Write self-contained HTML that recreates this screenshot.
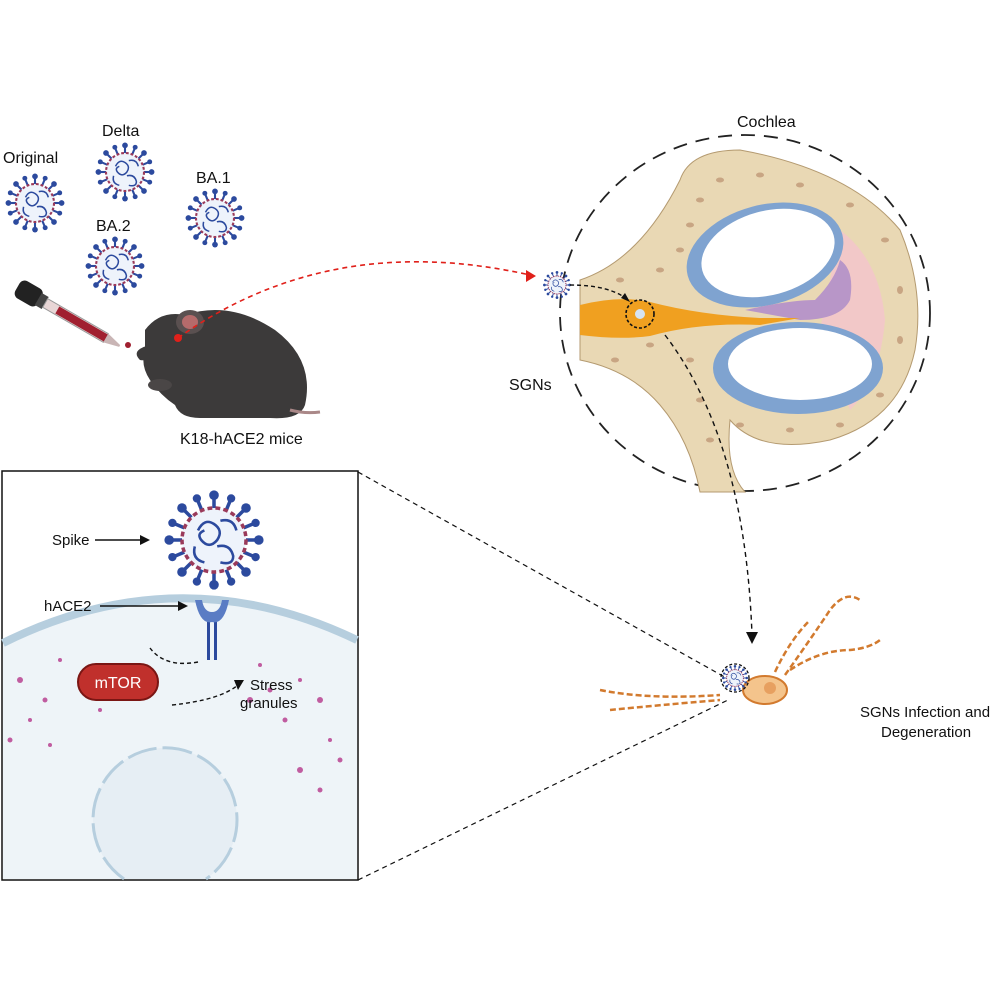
<!DOCTYPE html>
<html><head><meta charset="utf-8"><style>
html,body{margin:0;padding:0;background:#fff;width:996px;height:996px;overflow:hidden}
svg{display:block}
text{font-family:"Liberation Sans",sans-serif;fill:#111}
</style></head><body>
<svg width="996" height="996" viewBox="0 0 996 996" xmlns="http://www.w3.org/2000/svg">
<defs>
<g id="virus">
  <g stroke="#2c4a9e" stroke-width="2.2">
    <line x1="0" y1="-20" x2="0" y2="-27"/><line x1="0" y1="20" x2="0" y2="27"/>
    <line x1="-20" y1="0" x2="-27" y2="0"/><line x1="20" y1="0" x2="27" y2="0"/>
    <line x1="14" y1="14" x2="19" y2="19"/><line x1="-14" y1="14" x2="-19" y2="19"/>
    <line x1="14" y1="-14" x2="19" y2="-19"/><line x1="-14" y1="-14" x2="-19" y2="-19"/>
    <line x1="7.6" y1="-18.5" x2="10.3" y2="-25"/><line x1="-7.6" y1="-18.5" x2="-10.3" y2="-25"/>
    <line x1="7.6" y1="18.5" x2="10.3" y2="25"/><line x1="-7.6" y1="18.5" x2="-10.3" y2="25"/>
    <line x1="18.5" y1="7.6" x2="25" y2="10.3"/><line x1="-18.5" y1="7.6" x2="-25" y2="10.3"/>
    <line x1="18.5" y1="-7.6" x2="25" y2="-10.3"/><line x1="-18.5" y1="-7.6" x2="-25" y2="-10.3"/>
  </g>
  <g fill="#2c4a9e">
    <circle cx="0" cy="-28" r="3"/><circle cx="0" cy="28" r="3"/><circle cx="-28" cy="0" r="3"/><circle cx="28" cy="0" r="3"/>
    <circle cx="20" cy="20" r="3"/><circle cx="-20" cy="20" r="3"/><circle cx="20" cy="-20" r="3"/><circle cx="-20" cy="-20" r="3"/>
    <circle cx="10.7" cy="-26" r="2.6"/><circle cx="-10.7" cy="-26" r="2.6"/><circle cx="10.7" cy="26" r="2.6"/><circle cx="-10.7" cy="26" r="2.6"/>
    <circle cx="26" cy="10.7" r="2.6"/><circle cx="-26" cy="10.7" r="2.6"/><circle cx="26" cy="-10.7" r="2.6"/><circle cx="-26" cy="-10.7" r="2.6"/>
  </g>
  <circle r="20" fill="#eef3fb" stroke="#9a3a5a" stroke-width="2.2" stroke-dasharray="3 2"/>
  <g fill="none" stroke="#2c4a9e" stroke-width="1.6">
    <path d="M-10,-6 q4,-8 10,-4 q6,4 2,10 q-5,6 -10,0 q-3,-4 2,-6"/>
    <path d="M2,4 q8,-2 10,6 q0,6 -8,4"/>
    <path d="M-12,4 q-2,8 6,10"/>
    <path d="M4,-12 q8,-2 10,6"/>
  </g>
</g>
</defs>

<text x="3" y="163" font-size="16">Original</text>
<use href="#virus" transform="translate(35,203) scale(0.95)"/>
<text x="102" y="136" font-size="16">Delta</text>
<use href="#virus" transform="translate(125,172) scale(0.95)"/>
<text x="96" y="231" font-size="16">BA.2</text>
<use href="#virus" transform="translate(115,266) scale(0.95)"/>
<text x="196" y="183" font-size="16">BA.1</text>
<use href="#virus" transform="translate(215,218) scale(0.95)"/>

<g transform="rotate(30 40 300)">
  <rect x="14" y="290" width="26" height="20" rx="6" fill="#222"/>
  <rect x="38" y="293" width="8" height="14" fill="#444"/>
  <rect x="46" y="295" width="70" height="10" fill="#e8d6d6" stroke="#999"/>
  <rect x="60" y="296" width="56" height="8" fill="#a02030"/>
  <polygon points="116,295 132,299 132,301 116,305" fill="#c9b5b5"/>
</g>
<circle cx="128" cy="345" r="3" fill="#a02030"/>

<path d="M145,330 Q160,310 185,315 Q230,300 275,330 Q315,360 305,405 Q300,420 270,418 L200,418 Q180,418 175,405 Q160,395 150,380 Q140,365 145,350 Z" fill="#3c3a3a"/>
<ellipse cx="190" cy="322" rx="14" ry="12" fill="#5a5050"/>
<ellipse cx="190" cy="322" rx="8" ry="7" fill="#b56b6b"/>
<path d="M150,345 Q130,350 140,360 Q150,362 160,350Z" fill="#3c3a3a"/>
<path d="M290,410 Q305,414 320,412" stroke="#a88" stroke-width="3" fill="none"/>
<ellipse cx="160" cy="385" rx="12" ry="6" fill="#4a4646"/>
<text x="180" y="444" font-size="16">K18-hACE2 mice</text>

<path d="M178,338 Q330,230 530,275" stroke="#e0201a" stroke-width="1.6" fill="none" stroke-dasharray="5 4"/>
<polygon points="536,276 526,270 526,282" fill="#e0201a"/>
<circle cx="178" cy="338" r="4" fill="#e0201a"/>

<text x="737" y="127" font-size="16">Cochlea</text>
<ellipse cx="745" cy="313" rx="185" ry="178" fill="none" stroke="#222" stroke-width="1.8" stroke-dasharray="14 9"/>
<path d="M580,280 Q640,260 680,180 Q690,150 740,150 Q850,170 900,230 Q925,290 915,350 Q900,420 830,440 Q760,455 730,420 Q725,470 745,492 L700,492 Q690,440 660,405 Q630,370 580,360 Z" fill="#e9d8b4" stroke="#b49a70" stroke-width="1"/>
<g fill="#c8a583">
  <ellipse cx="700" cy="200" rx="4" ry="2.5"/><ellipse cx="720" cy="180" rx="4" ry="2.5"/><ellipse cx="760" cy="175" rx="4" ry="2.5"/>
  <ellipse cx="800" cy="185" rx="4" ry="2.5"/><ellipse cx="850" cy="205" rx="4" ry="2.5"/><ellipse cx="885" cy="240" rx="4" ry="2.5"/>
  <ellipse cx="900" cy="290" rx="3" ry="4"/><ellipse cx="900" cy="340" rx="3" ry="4"/><ellipse cx="880" cy="395" rx="4" ry="2.5"/>
  <ellipse cx="840" cy="425" rx="4" ry="2.5"/><ellipse cx="790" cy="430" rx="4" ry="2.5"/><ellipse cx="740" cy="425" rx="4" ry="2.5"/>
  <ellipse cx="660" cy="270" rx="4" ry="2.5"/><ellipse cx="650" cy="345" rx="4" ry="2.5"/><ellipse cx="690" cy="360" rx="4" ry="2.5"/>
  <ellipse cx="680" cy="250" rx="4" ry="2.5"/><ellipse cx="620" cy="280" rx="4" ry="2.5"/><ellipse cx="700" cy="400" rx="4" ry="2.5"/>
  <ellipse cx="710" cy="440" rx="4" ry="2.5"/><ellipse cx="615" cy="360" rx="4" ry="2.5"/><ellipse cx="690" cy="225" rx="4" ry="2.5"/>
</g>
<path d="M840,230 Q880,260 885,320 Q880,380 850,410 L820,330 Z" fill="#f2c8c8"/>
<ellipse cx="765" cy="255" rx="80" ry="50" transform="rotate(-15 765 255)" fill="#7fa3d0"/>
<ellipse cx="768" cy="253" rx="68" ry="42" transform="rotate(-15 768 253)" fill="#fff"/>
<ellipse cx="798" cy="368" rx="85" ry="46" fill="#7fa3d0"/>
<ellipse cx="800" cy="364" rx="72" ry="36" fill="#fff"/>
<path d="M745,310 Q790,300 815,300 Q835,280 840,260 Q855,270 850,300 Q840,320 800,320 Z" fill="#b896c8"/>
<path d="M580,305 Q620,295 650,302 Q700,315 760,318 L800,318 L760,325 Q700,322 650,336 Q620,340 580,335 Z" fill="#f0a020"/>
<circle cx="640" cy="314" r="14" fill="none" stroke="#111" stroke-width="1.6" stroke-dasharray="3 2"/>
<circle cx="640" cy="314" r="5" fill="#d6e4f4"/>
<use href="#virus" transform="translate(557,285) scale(0.45)"/>
<path d="M570,285 Q610,285 628,300" stroke="#111" stroke-width="1.4" fill="none" stroke-dasharray="4 3"/>
<polygon points="630,302 621,298 625,293" fill="#111"/>
<text x="509" y="390" font-size="16">SGNs</text>

<path d="M665,335 Q745,440 752,635" stroke="#111" stroke-width="1.4" fill="none" stroke-dasharray="5 4"/>
<polygon points="752,644 746,632 758,632" fill="#111"/>

<rect x="2" y="471" width="356" height="409" fill="#fff" stroke="#111" stroke-width="1.5"/>
<path d="M3,643 Q180,555 357,640 L357,879 L3,879 Z" fill="#eef4f8"/>
<path d="M3,643 Q180,555 357,640" fill="none" stroke="#b6cede" stroke-width="8"/>
<path d="M124,879 A72,72 0 1 1 206,879 Z" fill="#e6eef4"/>
<path d="M124,879 A72,72 0 1 1 206,879" fill="none" stroke="#b6cede" stroke-width="3" stroke-dasharray="30 6"/>
<g fill="#c05ca0">
  <circle cx="20" cy="680" r="3"/><circle cx="45" cy="700" r="2.5"/><circle cx="90" cy="670" r="3"/><circle cx="110" cy="690" r="2.5"/>
  <circle cx="60" cy="660" r="2"/><circle cx="130" cy="670" r="2.5"/><circle cx="30" cy="720" r="2"/><circle cx="100" cy="710" r="2"/>
  <circle cx="10" cy="740" r="2.5"/><circle cx="50" cy="745" r="2"/><circle cx="250" cy="700" r="3"/><circle cx="270" cy="690" r="2.5"/>
  <circle cx="300" cy="680" r="2"/><circle cx="320" cy="700" r="3"/><circle cx="285" cy="720" r="2.5"/><circle cx="330" cy="740" r="2"/>
  <circle cx="300" cy="770" r="3"/><circle cx="320" cy="790" r="2.5"/><circle cx="260" cy="665" r="2"/><circle cx="340" cy="760" r="2.5"/>
</g>
<rect x="78" y="664" width="80" height="36" rx="18" fill="#c0302c" stroke="#7a1614" stroke-width="2"/>
<text x="118" y="688" font-size="16" text-anchor="middle" style="fill:#fff">mTOR</text>
<path d="M172,705 Q220,700 238,685" stroke="#111" stroke-width="1.4" fill="none" stroke-dasharray="4 3"/>
<polygon points="244,680 234,680 238,690" fill="#111"/>
<text x="250" y="690" font-size="15">Stress</text>
<text x="240" y="708" font-size="15">granules</text>
<path d="M198,662 Q165,668 150,648" stroke="#111" stroke-width="1.4" fill="none" stroke-dasharray="4 3"/>
<rect x="207" y="620" width="3" height="40" fill="#2c4a9e"/><rect x="214" y="620" width="3" height="40" fill="#2c4a9e"/>
<path d="M195,600 Q200,625 212,622 Q224,625 229,600 L222,600 Q220,612 212,612 Q204,612 202,600Z" fill="#5a7cc4"/>
<use href="#virus" transform="translate(214,540) scale(1.6)"/>
<text x="52" y="545" font-size="15">Spike</text>
<line x1="95" y1="540" x2="142" y2="540" stroke="#111" stroke-width="1.6"/>
<polygon points="150,540 140,535 140,545" fill="#111"/>
<text x="44" y="611" font-size="15">hACE2</text>
<line x1="100" y1="606" x2="180" y2="606" stroke="#111" stroke-width="1.6"/>
<polygon points="188,606 178,601 178,611" fill="#111"/>

<line x1="358" y1="472" x2="730" y2="680" stroke="#111" stroke-width="1.2" stroke-dasharray="5 4"/>
<line x1="358" y1="880" x2="728" y2="700" stroke="#111" stroke-width="1.2" stroke-dasharray="5 4"/>

<g stroke="#d27a2e" stroke-width="2.5" fill="none" stroke-dasharray="6 3">
  <path d="M600,690 Q650,700 720,695"/>
  <path d="M610,710 Q660,705 720,700"/>
  <path d="M785,675 Q810,640 830,610 Q845,590 860,600"/>
  <path d="M790,670 Q820,650 850,650 Q870,648 880,640"/>
  <path d="M775,672 Q790,640 810,620"/>
</g>
<ellipse cx="765" cy="690" rx="22" ry="14" fill="#f4c48c" stroke="#d27a2e" stroke-width="2"/>
<circle cx="770" cy="688" r="6" fill="#e7a060"/>
<circle cx="735" cy="678" r="14" fill="none" stroke="#111" stroke-width="1.3" stroke-dasharray="3 2"/>
<use href="#virus" transform="translate(735,678) scale(0.42)"/>
<text x="860" y="717" font-size="15">SGNs Infection and</text>
<text x="881" y="737" font-size="15">Degeneration</text>
</svg>
</body></html>
